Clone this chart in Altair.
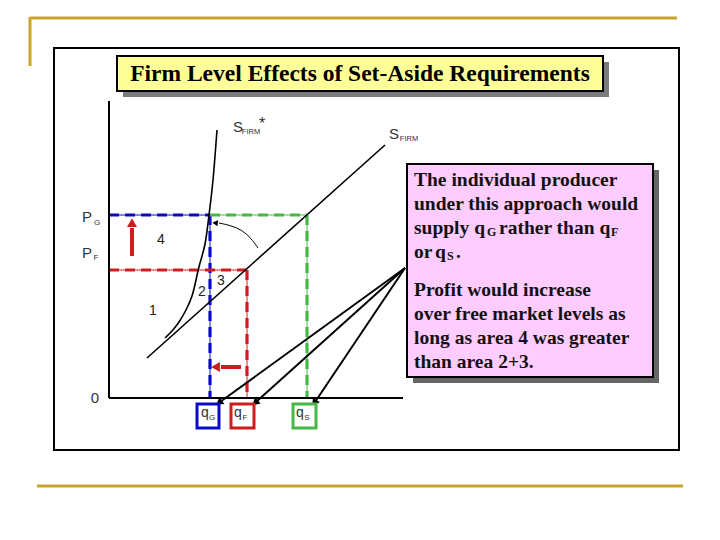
import math
import altair as alt
import pandas as pd

# ---------------- economic data (model units) ----------------
q_G, q_F, q_S = 5.05, 6.9, 9.9          # quantities
P_G, P_F = 9.15, 6.4                    # prices
s_firm_q = [1.9, 13.8]                  # S_FIRM (linear supply)
s_firm_p = [2.0, 12.65]
s_star_q = [2.8, 3.15, 3.5, 3.85, 4.15, 4.35, 4.55, 4.8, 5.0, 5.2, 5.4]   # S_FIRM*
s_star_p = [3.0, 3.35, 3.8, 4.4, 5.1, 5.9, 6.75, 7.7, 9.15, 10.9, 13.4]

title_text = "Firm Level Effects of Set-Aside Requirements"
area_labels = ["4", "3", "2", "1"]
note_lines = ["The individual producer", "under this approach would",
              "supply q", "G", "rather than q", "F", "or", "q", "S", ".",
              "Profit would increase", "over free market levels as",
              "long as area 4 was greater", "than area 2+3."]

# ---------------- layout helpers (page pixel -> model units) ----------------
def U(px):
    return (px - 109) / 20.0

def V(py):
    return (398 - py) / 20.0

XS = alt.Scale(domain=[U(8), U(712)], nice=False, zero=False)
YS = alt.Scale(domain=[V(532), V(8)], nice=False, zero=False)
X = lambda f="x": alt.X(f"{f}:Q", scale=XS, axis=None)
Y = lambda f="y": alt.Y(f"{f}:Q", scale=YS, axis=None)

BLUE, RED, GREEN, GOLD = "#0a0ac8", "#d01c1c", "#45b845", "#c8a42c"


def rules(rows, **kw):
    df = pd.DataFrame(rows, columns=["x", "y", "x2", "y2", "c"])
    return alt.Chart(df).mark_rule(**kw).encode(
        x=X(), y=Y(), x2="x2:Q", y2="y2:Q", color=alt.Color("c:N", scale=None))


def rects(rows, **kw):
    df = pd.DataFrame(rows, columns=["x", "y", "x2", "y2", "c"])
    return alt.Chart(df).mark_rect(**kw).encode(
        x=X(), y=Y(), x2="x2:Q", y2="y2:Q", fill=alt.Fill("c:N", scale=None))


def boxes(rows, **kw):
    df = pd.DataFrame(rows, columns=["x", "y", "x2", "y2", "c"])
    return alt.Chart(df).mark_rect(fillOpacity=0, **kw).encode(
        x=X(), y=Y(), x2="x2:Q", y2="y2:Q", stroke=alt.Stroke("c:N", scale=None))


def texts(rows, **kw):
    df = pd.DataFrame(rows, columns=["x", "y", "t", "c"])
    return alt.Chart(df).mark_text(**kw).encode(
        x=X(), y=Y(), text="t:N", color=alt.Color("c:N", scale=None))


def heads(rows, size):
    # rows: (x_tip, y_tip, x_from, y_from, color) in model units
    out = []
    for xt, yt, xf, yf, c in rows:
        dx = xt - xf
        dy_screen = -(yt - yf)
        ang = math.degrees(math.atan2(dx, -dy_screen)) % 360
        out.append({"x": xt, "y": yt, "a": ang, "c": c})
    df = pd.DataFrame(out)
    return alt.Chart(df).mark_point(shape="triangle", filled=True, opacity=1,
                                    size=size).encode(
        x=X(), y=Y(), angle=alt.Angle("a:Q", scale=None),
        color=alt.Color("c:N", scale=None))


layers = []

# slide decoration
layers.append(rules([(U(30), V(18), U(677), V(18), GOLD),
                     (U(30), V(17), U(30), V(66), GOLD),
                     (U(37), V(486), U(683), V(486), GOLD)], strokeWidth=3))
layers.append(boxes([(U(54), V(48), U(679), V(450), "black")], strokeWidth=2))

# title box
layers.append(rects([(U(123), V(62), U(609), V(97), "#7a7a7a")]))
layers.append(rects([(U(117), V(56), U(603), V(91), "#ffff99")],
                    stroke="black", strokeWidth=2))
layers.append(texts([(U(360), V(74), title_text, "black")], font="Liberation Serif",
                    fontSize=23.5, fontWeight="bold", baseline="middle", align="center"))

# dashed guide lines: thin solid + thick dashes
guides = [(0, P_G, q_G, P_G, BLUE), (q_G, P_G, q_G, 0, BLUE),
          (q_G, P_G, q_S, P_G, GREEN), (q_S, P_G, q_S, 0, GREEN),
          (0, P_F, q_F, P_F, RED), (q_F, P_F, q_F, 0, RED)]
layers.append(rules(guides, strokeWidth=1))
layers.append(rules(guides, strokeWidth=3.2, strokeDash=[10, 6]))

# axes
layers.append(rules([(0, 0, 0, V(101), "black"), (0, 0, U(403), 0, "black")],
                    strokeWidth=2))

# supply curves
sf = pd.DataFrame({"x": s_firm_q, "y": s_firm_p, "o": range(len(s_firm_q))})
ss = pd.DataFrame({"x": s_star_q, "y": s_star_p, "o": range(len(s_star_q))})
layers.append(alt.Chart(sf).mark_line(color="black", strokeWidth=1.6).encode(
    x=X(), y=Y(), order="o:Q"))
layers.append(alt.Chart(ss).mark_line(color="black", strokeWidth=1.6,
                                      interpolate="natural").encode(
    x=X(), y=Y(), order="o:Q"))

# curved arrow
arc_x = [U(258), U(251), U(242), U(231), U(219)]
arc_y = [V(248), V(238), V(230), V(225.5), V(223)]
arc = pd.DataFrame({"x": arc_x, "y": arc_y, "o": range(5)})
layers.append(alt.Chart(arc).mark_line(color="black", strokeWidth=1,
                                       interpolate="basis").encode(
    x=X(), y=Y(), order="o:Q"))
layers.append(heads([(U(216), V(223), U(226), V(224), "black")], 40))

# red movement arrows
layers.append(rules([(U(132), V(256), U(132), V(228), RED),
                     (U(241), V(367), U(221), V(367), RED)], strokeWidth=4))
layers.append(heads([(U(132), V(224), U(132), V(240), RED),
                     (U(217), V(367), U(230), V(367), RED)], 100))

# pointer arrows from note to quantity boxes
src = (U(405), V(268))
tips = [(U(220), V(402)), (U(256), V(402)), (U(315), V(402))]
layers.append(rules([(src[0], src[1], tx, ty, "black") for tx, ty in tips],
                    strokeWidth=2))
layers.append(heads([(tx, ty, src[0], src[1], "black") for tx, ty in tips], 70))

# quantity boxes
layers.append(rects([(U(197), V(404), U(219), V(428), "white"),
                     (U(231), V(404), U(254), V(428), "white"),
                     (U(293), V(404), U(316), V(428), "white")],
                    stroke=None))
layers.append(boxes([(U(197), V(404), U(219), V(428), BLUE),
                     (U(231), V(404), U(254), V(428), RED),
                     (U(293), V(404), U(316), V(428), GREEN)], strokeWidth=3))
sans = dict(font="Liberation Sans", baseline="middle", align="center")
layers.append(texts([(U(205), V(413), "q", "#333"), (U(238), V(413), "q", "#333"),
                     (U(300), V(413), "q", "#333")], fontSize=14, **sans))
layers.append(texts([(U(212), V(418), "G", "#333"), (U(245), V(418), "F", "#333"),
                     (U(307), V(418), "S", "#333")], fontSize=8, **sans))

# axis labels
layers.append(texts([(U(87), V(217), "P", "#333"), (U(87), V(253), "P", "#333"),
                     (U(95), V(398), "0", "#333")], fontSize=15, **sans))
layers.append(texts([(U(97), V(223), "G", "#333"), (U(96), V(258), "F", "#333")],
                    fontSize=8, **sans))

# curve labels
layers.append(texts([(U(238), V(127), "S", "#333"), (U(394), V(134), "S", "#333")],
                    fontSize=15, **sans))
layers.append(texts([(U(251), V(132), "FIRM", "#333"), (U(409), V(139), "FIRM", "#333")],
                    fontSize=7.5, **sans))
layers.append(texts([(U(262), V(124), "*", "#333")], fontSize=16, **sans))

# area labels
layers.append(texts([(U(161), V(240), area_labels[0], "#222"),
                     (U(221), V(281), area_labels[1], "#222"),
                     (U(202), V(292), area_labels[2], "#222"),
                     (U(153), V(311), area_labels[3], "#222")], fontSize=14, **sans))

# note box
layers.append(rects([(U(413), V(170), U(659), V(383), "#666666")]))
layers.append(rects([(U(407), V(164), U(653), V(377), "#ffccff")],
                    stroke="black", strokeWidth=2))
serif = dict(font="Liberation Serif", fontWeight="bold", baseline="middle",
             align="left")
main_rows = [(U(414), V(180), note_lines[0], "#111"),
             (U(414), V(204), note_lines[1], "#111"),
             (U(414), V(228), note_lines[2], "#111"),
             (U(499), V(228), note_lines[4], "#111"),
             (U(414), V(252), note_lines[6], "#111"),
             (U(435), V(252), note_lines[7], "#111"),
             (U(456), V(252), note_lines[9], "#111"),
             (U(414), V(290), note_lines[10], "#111"),
             (U(414), V(314), note_lines[11], "#111"),
             (U(414), V(338), note_lines[12], "#111"),
             (U(414), V(362), note_lines[13], "#111")]
layers.append(texts(main_rows, fontSize=19.5, **serif))
layers.append(texts([(U(487), V(232), note_lines[3], "#111"),
                     (U(611), V(232), note_lines[5], "#111"),
                     (U(447), V(256), note_lines[8], "#111")], fontSize=12, **serif))

chart = alt.layer(*layers).properties(
    width=704, height=524, padding=0, autosize="none", background="white"
).configure_view(stroke=None)

chart.save("out.html", embed_options={"renderer": "svg", "actions": False})
